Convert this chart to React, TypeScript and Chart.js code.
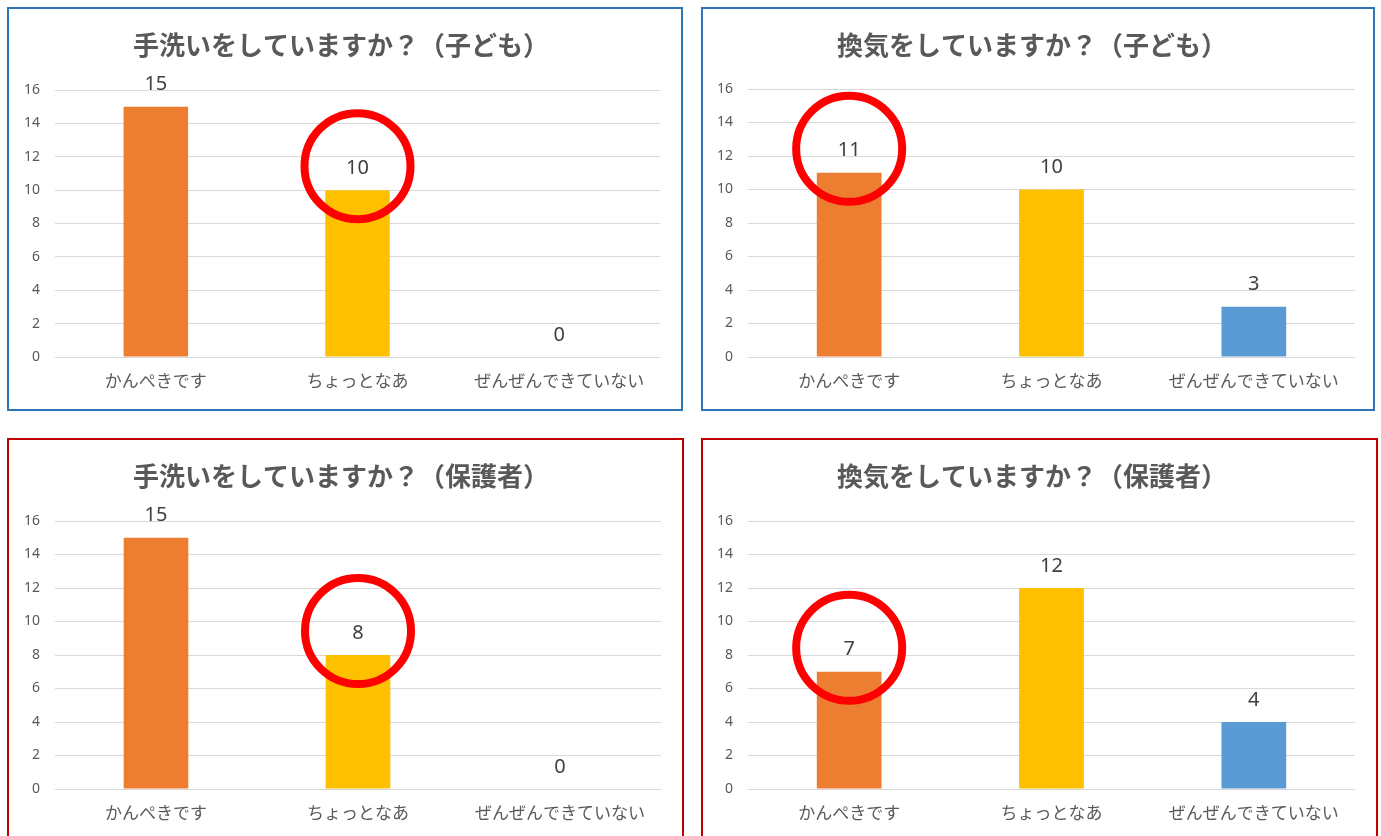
import React, { useEffect, useRef } from "react";
import { Chart, registerables } from "chart.js";

Chart.register(...registerables);

const categories = ["かんぺきです", "ちょっとなあ", "ぜんぜんできていない"];
const handwashChild = [15, 10, 0];
const ventilationChild = [11, 10, 3];
const handwashParent = [15, 8, 0];
const ventilationParent = [7, 12, 4];
const yMax = 16;
const yStep = 2;

const titleHandwashChild = "手洗いをしていますか？（子ども）";
const titleVentilationChild = "換気をしていますか？（子ども）";
const titleHandwashParent = "手洗いをしていますか？（保護者）";
const titleVentilationParent = "換気をしていますか？（保護者）";

// index of the bar circled in red in each chart
const circledHandwashChild = 1;
const circledVentilationChild = 0;
const circledHandwashParent = 1;
const circledVentilationParent = 0;

const BAR_COLORS = ["#ED7D31", "#FFC000", "#5B9BD5"];
const FONT = '"Noto Sans", "Noto Sans CJK JP", sans-serif';
const JP_FONT = '"Noto Sans CJK JP", sans-serif';

type Rect = { left: number; top: number; width: number; height: number };
type Plot = { l: number; t: number; r: number; b: number };

interface PanelProps {
  title: string;
  values: number[];
  circled: number;
  border: string;
  box: Rect;
  plot: Plot;
  titleX: number;
  titleY: number;
}

const BORDER_W = 2;

function Panel({ title, values, circled, border, box, plot, titleX, titleY }: PanelProps) {
  const ref = useRef<HTMLCanvasElement | null>(null);
  const cw = box.width - BORDER_W * 2;
  const ch = box.height - BORDER_W * 2;
  const cLeft = box.left + BORDER_W;
  const cTop = box.top + BORDER_W;

  useEffect(() => {
    if (!ref.current) return;
    const titleSize = 26;
    const lh = titleSize * 1.2;
    const padTop = titleY - cTop - lh / 2;
    const padBottom = plot.t - cTop - padTop - lh;
    const rightPad = cLeft + cw - plot.r;
    const leftPad = Math.max(0, 2 * (titleX - cLeft) - cw + rightPad);
    const yAxisWidth = plot.l - cLeft - leftPad;
    const xAxisHeight = cTop + ch - plot.b;

    const labelsPlugin = {
      id: "valueLabels",
      afterDatasetsDraw(chart: any) {
        const ctx = chart.ctx;
        const meta = chart.getDatasetMeta(0);
        ctx.save();
        meta.data.forEach((el: any, i: number) => {
          const v = chart.data.datasets[0].data[i];
          const y = el.y - 22;
          ctx.fillStyle = "#404040";
          ctx.font = `20px ${FONT}`;
          ctx.textAlign = "center";
          ctx.textBaseline = "middle";
          ctx.fillText(String(v), el.x, y);
          if (i === circled) {
            ctx.beginPath();
            ctx.strokeStyle = "#FF0000";
            ctx.lineWidth = 8;
            ctx.arc(el.x, y - 2, 53, 0, Math.PI * 2);
            ctx.stroke();
          }
        });
        ctx.restore();
      },
    };

    const chart = new Chart(ref.current, {
      type: "bar",
      data: {
        labels: categories,
        datasets: [
          {
            data: values,
            backgroundColor: BAR_COLORS,
            borderWidth: 0,
            barPercentage: 0.32,
            categoryPercentage: 1,
          },
        ],
      },
      options: {
        animation: false,
        responsive: false,
        devicePixelRatio: 1,
        layout: { padding: { left: leftPad, right: rightPad, top: 0, bottom: 0 } },
        plugins: {
          legend: { display: false },
          tooltip: { enabled: false },
          title: {
            display: true,
            text: title,
            color: "#595959",
            font: { family: JP_FONT, size: titleSize, weight: "bold", lineHeight: 1.2 },
            padding: { top: padTop, bottom: padBottom },
          },
        },
        scales: {
          x: {
            grid: { display: false, drawTicks: false },
            border: { display: false },
            ticks: {
              color: "#595959",
              font: { family: JP_FONT, size: 17 },
              padding: 13,
              maxRotation: 0,
              autoSkip: false,
            },
            afterFit(scale: any) {
              scale.height = xAxisHeight;
            },
          },
          y: {
            min: 0,
            max: yMax,
            grid: { color: "#D9D9D9", lineWidth: 1, drawTicks: false },
            border: { display: false },
            ticks: {
              stepSize: yStep,
              color: "#595959",
              font: { family: FONT, size: 14 },
              padding: 15,
            },
            afterFit(scale: any) {
              scale.width = yAxisWidth;
            },
          },
        },
      },
      plugins: [labelsPlugin],
    } as any);
    return () => chart.destroy();
  }, []);

  return (
    <div
      style={{
        position: "absolute",
        left: box.left,
        top: box.top,
        width: box.width,
        height: box.height,
        border: `${BORDER_W}px solid ${border}`,
        boxSizing: "border-box",
        background: "#fff",
      }}
    >
      <canvas ref={ref} width={cw} height={ch} style={{ display: "block", width: cw, height: ch }} />
    </div>
  );
}

export default function App() {
  const blue = "#2E75B6";
  const red = "#C00000";
  return (
    <div
      style={{
        position: "fixed",
        left: 0,
        top: 0,
        width: 1381,
        height: 836,
        overflow: "hidden",
        background: "#fff",
      }}
    >
      <Panel
        title={titleHandwashChild}
        values={handwashChild}
        circled={circledHandwashChild}
        border={blue}
        box={{ left: 7, top: 7, width: 676, height: 404 }}
        plot={{ l: 55, t: 90, r: 660, b: 357 }}
        titleX={341}
        titleY={45}
      />
      <Panel
        title={titleVentilationChild}
        values={ventilationChild}
        circled={circledVentilationChild}
        border={blue}
        box={{ left: 701, top: 7, width: 674, height: 404 }}
        plot={{ l: 748, t: 89, r: 1355, b: 357 }}
        titleX={1032}
        titleY={45}
      />
      <Panel
        title={titleHandwashParent}
        values={handwashParent}
        circled={circledHandwashParent}
        border={red}
        box={{ left: 7, top: 438, width: 677, height: 412 }}
        plot={{ l: 55, t: 521, r: 661, b: 789 }}
        titleX={341}
        titleY={476}
      />
      <Panel
        title={titleVentilationParent}
        values={ventilationParent}
        circled={circledVentilationParent}
        border={red}
        box={{ left: 701, top: 438, width: 677, height: 412 }}
        plot={{ l: 748, t: 521, r: 1355, b: 789 }}
        titleX={1032}
        titleY={476}
      />
    </div>
  );
}
